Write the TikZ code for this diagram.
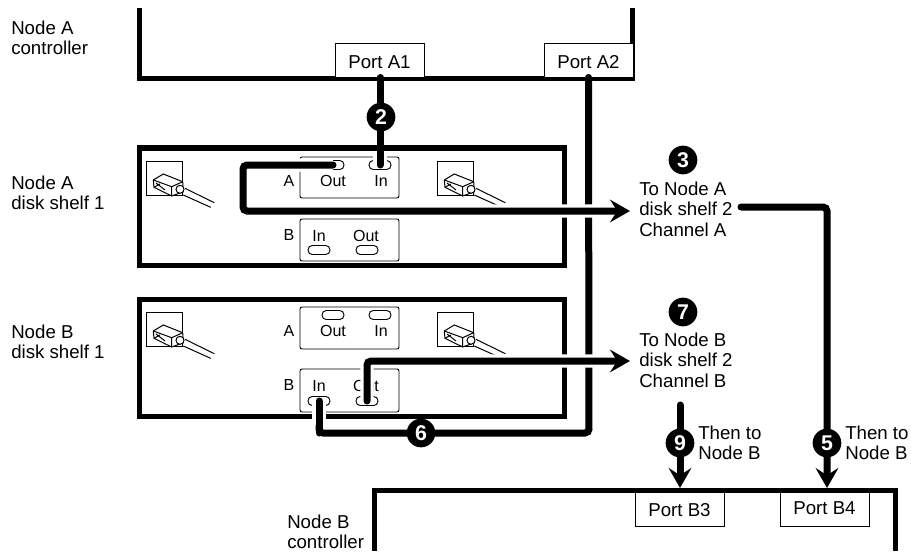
\documentclass[tikz,border=0pt]{standalone}
\usepackage{fontspec}
\setmainfont{Liberation Sans}
\usetikzlibrary{arrows.meta}
\tikzset{
  shelfline/.style={line width=3.75pt, line join=miter},
  portbox/.style={draw, line width=0.7pt, fill=white, minimum width=66.75pt, minimum height=25.5pt, inner sep=0pt, text height=13pt, text depth=0pt, font=\fontsize{14}{14}\selectfont},
  modbox/.style={draw, line width=0.7pt, rounded corners=1.5pt},
  slotoval/.style={draw, line width=0.7pt, fill=white, rounded corners=3.2pt, minimum width=16.5pt, minimum height=6.75pt, inner sep=0pt},
  cable/.style={line width=5.25pt, line cap=round, rounded corners=3pt},
  cablehalo/.style={line width=10pt, white, rounded corners=3pt},
  cablearrow/.style={cable, -{Stealth[length=15pt, width=17pt, inset=5.5pt]}},
  stepdot/.style={circle, fill=black, text=white, minimum size=21.5pt, inner sep=0pt, font=\fontsize{16}{16}\selectfont\bfseries},
  lbl/.style={align=left, anchor=west, inner sep=0pt, font=\fontsize{14}{15}\selectfont},
  tag/.style={inner sep=0pt, font=\fontsize{12}{12}\selectfont},
  jackplug/.pic={
    \draw[line width=0.75pt] (0,0) rectangle (36,34);
    \draw[line width=0.75pt, fill=white] (7.3,19) -- (17.3,13) -- (36.7,20.7) -- (37.3,30.7) -- (25.7,35) -- (8,26.3) -- cycle;
    \draw[line width=0.75pt] (7.3,19) -- (25.7,25.7) -- (36.7,20.7) (25.7,25.7) -- (25.7,35);
    \draw[line width=0.75pt] (10,22) -- (19,29) (8,26.3) -- (14,23);
    \draw[line width=0.75pt, fill=white] (34,28.3) circle (3pt);
    \draw[line width=0.75pt] (39,27.3) -- (68.3,41.7) (37.3,34) -- (64.7,46.3);
  }
}
\begin{document}
\begin{tikzpicture}[x=0.75pt, y=-0.75pt]
  \useasboundingbox (0,0) rectangle (911,560);
  % controllers
  \draw[shelfline] (139,8) -- (139,79) -- (632,79) -- (632,8);
  \draw[shelfline] (374,551) -- (374,490) -- (895,490) -- (895,551);
  \node[portbox] (portA1) at (379.5,60) {Port A1};
  \node[portbox] (portA2) at (588.5,60) {Port A2};
  \node[portbox, text height=11.5pt] (portB3) at (679.5,509) {Port B3};
  \node[portbox, text height=8.5pt] (portB4) at (824.5,509) {Port B4};
  \node[lbl] at (11,37.5) {Node A\\controller};
  \node[lbl] at (11,193) {Node A\\disk shelf 1};
  \node[lbl] at (11,342) {Node B\\disk shelf 1};
  \node[lbl] at (287,532) {Node B\\controller};
  % shelves
  \draw[shelfline] (139,148) rectangle (564,265);
  \draw[shelfline] (139,299) rectangle (564,416);
  \pic at (146,161) {jackplug};
  \pic at (437,161) {jackplug};
  \pic at (146,312) {jackplug};
  \pic at (437,312) {jackplug};
  % modules
  \draw[modbox] (300,157) rectangle (399,198);
  \draw[modbox] (300,219) rectangle (399,261);
  \draw[modbox] (300,307) rectangle (399,349);
  \draw[modbox] (300,369) rectangle (399,412);
  \node[slotoval] (oneAout) at (333,165) {};
  \node[slotoval] (oneAin) at (380,165) {};
  \node[slotoval] (oneBin) at (319,250) {};
  \node[slotoval] (oneBout) at (367,250) {};
  \node[slotoval] (twoAout) at (333,315) {};
  \node[slotoval] (twoAin) at (380,315) {};
  \node[slotoval] (twoBin) at (319,401) {};
  \node[slotoval] (twoBout) at (367,401) {};
  \node[tag] at (289,181) {A};   \node[tag] at (333,181) {Out}; \node[tag] at (381,181) {In};
  \node[tag] at (289,235) {B};   \node[tag] at (319,236) {In};  \node[tag] at (366,236) {Out};
  \node[tag] at (289,331) {A};   \node[tag] at (333,331) {Out}; \node[tag] at (381,331) {In};
  \node[tag] at (289,385) {B};   \node[tag] at (319,386) {In};  \node[tag] at (366,386) {Out};
  % cables
  \coordinate (endA) at (630,211);
  \coordinate (endB) at (630,361);
  \draw[cable] (portA2.south) -- (589,433) -- (319,433) -- (319,425);
  \draw[cablehalo] (380,151) -- (oneAin.center);
  \draw[cable] (portA1.south -| oneAin) -- (oneAin.center);
  \draw[cablehalo] (oneAout.center) -- (243,165) -- (243,211) -- (620,211);
  \draw[cablearrow] (oneAout.center) -- (243,165) -- (243,211) -- (endA);
  \draw[cablehalo] (twoBout.center) -- (367,361) -- (620,361);
  \draw[cablearrow] (twoBout.center) -- (367,361) -- (endB);
  \draw[cablehalo] (twoBin.center) -- (319,425);
  \draw[cable] (twoBin.center) -- (319,433);
  \coordinate (fromB) at (680,405);
  \coordinate (fromA) at (741,207);
  \draw[cablearrow] (fromA) -- (827,207) -- (827,488);
  \draw[cablearrow] (fromB) -- (680,488);
  % steps
  \node[stepdot] (stepTwo) at (381,117) {2};
  \node[stepdot] (stepThree) at (683,160) {3};
  \node[stepdot] (stepSeven) at (683,312) {7};
  \node[stepdot] (stepSix) at (421,433) {6};
  \node[stepdot] (stepNine) at (680,443) {9};
  \node[stepdot] (stepFive) at (827,443) {5};
  % right side text
  \node[lbl, font=\fontsize{14}{15.4}\selectfont] at (639,209) {To Node A\\disk shelf 2\\Channel A};
  \node[lbl, font=\fontsize{14}{15.4}\selectfont] at (639,360) {To Node B\\disk shelf 2\\Channel B};
  \node[lbl] at (698,442.5) {Then to\\Node B};
  \node[lbl] at (845,442.5) {Then to\\Node B};
\end{tikzpicture}
\end{document}
